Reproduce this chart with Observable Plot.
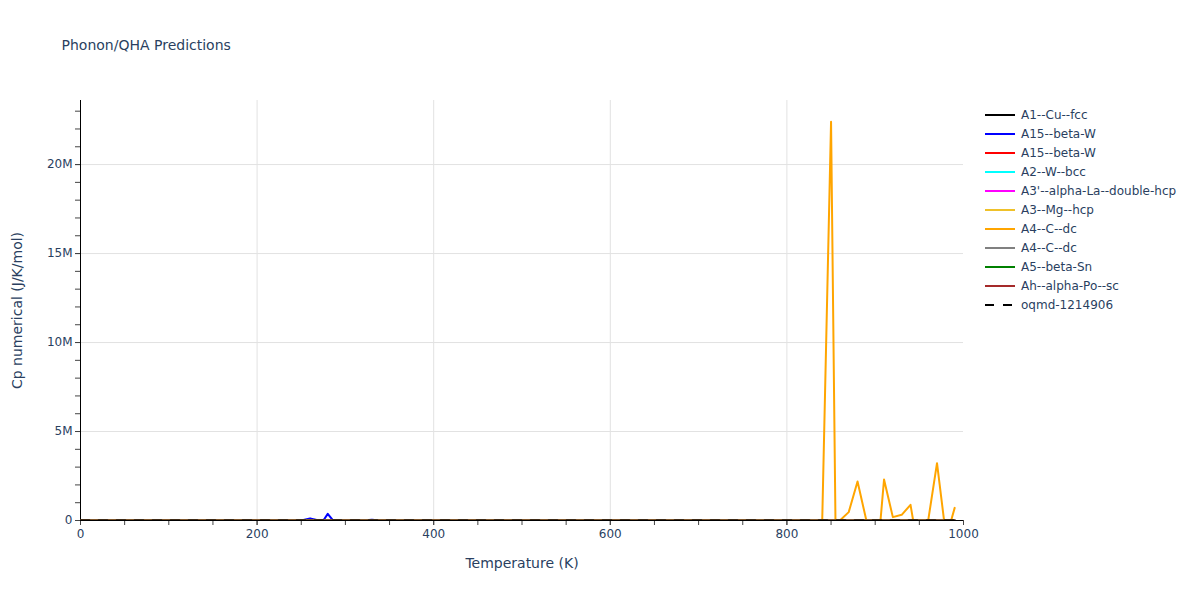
<!DOCTYPE html>
<html>
<head>
<meta charset="utf-8">
<script src="https://cdn.jsdelivr.net/npm/d3@7"></script>
<script src="https://cdn.jsdelivr.net/npm/@observablehq/plot@0.6"></script>
<style>
  body { margin: 0; background: white; }
  #wrap { position: relative; width: 1200px; height: 600px; font-family: 'DejaVu Sans', verdana, arial, sans-serif; }
  #legend { position: absolute; left: 985px; top: 105px; font-size: 12px; color: #2a3f5f; }
  #legend .row { height: 19px; display: flex; align-items: center; white-space: nowrap; }
  #legend svg { margin-right: 6px; }
</style>
</head>
<body>
<div id="wrap"><div id="legend"></div></div>
<script>
// ---- data (Temperature in K, Cp numerical in J/K/mol) ----
const seriesNames = ["A1--Cu--fcc","A15--beta-W","A15--beta-W","A2--W--bcc","A3'--alpha-La--double-hcp","A3--Mg--hcp","A4--C--dc","A4--C--dc","A5--beta-Sn","Ah--alpha-Po--sc","oqmd-1214906"];
const seriesColors = ["#000000","#0000ff","#ff0000","#00ffff","#ff00ff","#efc12a","#ffa500","#808080","#008000","#a52a2a","#000000"];
const seriesDash = [null,null,null,null,null,null,null,null,null,null,"9,9"];

const baseT = [0, 50, 100, 200, 300, 400, 500, 600, 700, 800, 900, 990];
const cuCp   = [0, 9, 16, 22.5, 24.5, 25.3, 25.8, 26.2, 26.6, 27.0, 27.4, 27.8];
const w15aT  = [0, 100, 200, 250, 260, 270, 275, 280, 286, 320, 330, 340, 500, 700, 900, 990];
const w15aCp = [0, 18, 23, 0, 120000, 0, 0, 370000, 0, 0, 40000, 0, 24, 25, 25, 26];
const w15bCp = [0, 17, 23, 24.5, 25, 25.4, 25.8, 26.1, 26.4, 26.8, 27.1, 27.4];
const wbccCp = [0, 10, 17, 22.8, 24.2, 24.9, 25.4, 25.8, 26.2, 26.6, 27.0, 27.3];
const laCp   = [0, 20, 24, 25.5, 26, 26.4, 26.8, 27.2, 27.6, 28.0, 28.4, 28.8];
const mgCp   = [0, 12, 19, 23.5, 24.8, 25.4, 25.9, 26.4, 26.9, 27.4, 27.9, 28.3];
const cdcT   = [0, 200, 400, 600, 800, 840, 850, 855, 860, 870, 880, 890, 900, 906, 910, 920, 930, 940, 943, 950, 960, 970, 978, 980, 986, 990];
const cdcCp  = [0, 0, 0, 0, 0, 0, 22400000, 0, 0, 470000, 2190000, 0, 0, 0, 2300000, 190000, 320000, 880000, 0, 0, 0, 3220000, 0, 0, 0, 710000];
const cdc2Cp = [0, 1, 3, 9, 14, 17.5, 19.5, 21, 22, 22.6, 23.1, 23.5];
const snCp   = [0, 14, 20, 24, 25.5, 26.3, 26.9, 27.5, 28.0, 28.5, 29.0, 29.4];
const poCp   = [0, 19, 23, 24.8, 25.4, 25.8, 26.2, 26.6, 27.0, 27.4, 27.8, 28.2];
const oqCp   = [0, 8, 15, 21.5, 23.8, 24.7, 25.2, 25.6, 26.0, 26.4, 26.8, 27.1];

const seriesT = [baseT, w15aT, baseT, baseT, baseT, baseT, cdcT, baseT, baseT, baseT, baseT];
const seriesV = [cuCp, w15aCp, w15bCp, wbccCp, laCp, mgCp, cdcCp, cdc2Cp, snCp, poCp, oqCp];

const xTicks = [0, 200, 400, 600, 800, 1000];
const xMinor = [0,50,100,150,200,250,300,350,400,450,500,550,600,650,700,750,800,850,900,950,1000];
const xGrid = [200, 400, 600, 800];
const yTicks = [0, 5e6, 10e6, 15e6, 20e6];
const yMinor = [0,1e6,2e6,3e6,4e6,5e6,6e6,7e6,8e6,9e6,10e6,11e6,12e6,13e6,14e6,15e6,16e6,17e6,18e6,19e6,20e6,21e6,22e6,23e6];
const yGrid = [5e6, 10e6, 15e6, 20e6];
const yMax = 23.6e6;

const textColor = "#2a3f5f";
const lineMarks = seriesNames.map((name, i) => {
  const rows = seriesT[i].map((t, j) => ({T: t, v: seriesV[i][j]}));
  return Plot.line(rows, {x: "T", y: "v", stroke: seriesColors[i], strokeWidth: 2,
    strokeDasharray: seriesDash[i] || undefined, clip: true});
});

const chart = Plot.plot({
  width: 1200, height: 600,
  marginLeft: 80, marginRight: 237, marginTop: 100, marginBottom: 80,
  x: {domain: [0, 1000]},
  y: {domain: [0, yMax]},
  style: {fontFamily: "'DejaVu Sans', verdana, arial, sans-serif", fontSize: "12px", color: textColor, background: "white"},
  marks: [
    Plot.gridX(xGrid, {stroke: "#e2e2e2", strokeOpacity: 1, strokeWidth: 1}),
    Plot.gridY(yGrid, {stroke: "#e2e2e2", strokeOpacity: 1, strokeWidth: 1}),
    Plot.axisX({ticks: xMinor, tickSize: 5, tickFormat: () => "", label: null, stroke: "#444"}),
    Plot.axisX({ticks: xTicks, tickSize: 5, tickPadding: 4, tickFormat: d => String(d), label: null, stroke: "#444", fill: textColor, fontSize: 12}),
    Plot.axisY({ticks: yMinor, tickSize: 5, tickFormat: () => "", label: null, stroke: "#444"}),
    Plot.axisY({ticks: yTicks, tickSize: 5, tickPadding: 3, tickFormat: d => d === 0 ? "0" : (d / 1e6) + "M", label: null, stroke: "#444", fill: textColor, fontSize: 12}),
    Plot.ruleX([0], {stroke: "#000", strokeWidth: 1}),
    Plot.ruleY([0], {stroke: "#000", strokeWidth: 1}),
    ...lineMarks,
    Plot.text(["Temperature (K)"], {frameAnchor: "bottom", dy: 43, textAnchor: "middle", lineAnchor: "middle", fontSize: 14, fill: textColor}),
    Plot.text(["Cp numerical (J/K/mol)"], {frameAnchor: "left", dx: -63, rotate: -90, textAnchor: "middle", lineAnchor: "middle", fontSize: 14, fill: textColor}),
    Plot.text(["Phonon/QHA Predictions"], {frameAnchor: "top-left", dx: -19, dy: -55, textAnchor: "start", lineAnchor: "middle", fontSize: 14, fill: textColor})
  ]
});
document.getElementById("wrap").prepend(chart);

const legend = document.getElementById("legend");
seriesNames.forEach((name, i) => {
  const row = document.createElement("div");
  row.className = "row";
  const dash = seriesDash[i] ? ` stroke-dasharray="9,9"` : "";
  row.innerHTML = `<svg width="30" height="6"><line x1="0" y1="3" x2="30" y2="3" stroke="${seriesColors[i]}" stroke-width="2"${dash}/></svg><span>${name}</span>`;
  legend.appendChild(row);
});
</script>
</body>
</html>
